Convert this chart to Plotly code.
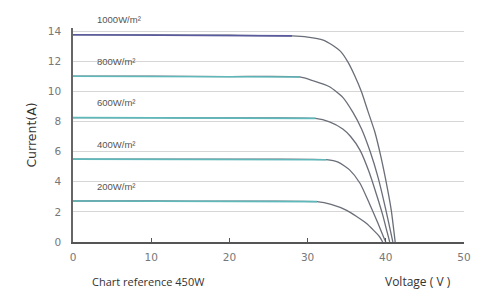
import plotly.graph_objects as go

# ---- data ----
v_1000 = [0, 10, 20, 28, 30, 32, 33.2, 34.3, 35.2, 36.0, 36.9, 37.7, 38.6, 39.4, 40.0, 40.7, 41.2]
i_1000 = [13.75, 13.74, 13.72, 13.68, 13.6, 13.4, 13.05, 12.6, 11.9, 11.06, 9.95, 8.7, 7.3, 5.6, 4.1, 2.1, 0]

v_800 = [0, 10, 20, 29, 30.7, 32.8, 34.5, 35.8, 36.9, 38.0, 39.0, 39.8, 40.4, 40.9]
i_800 = [11.0, 11.0, 10.98, 10.95, 10.7, 10.3, 9.6, 8.6, 7.5, 6.0, 4.3, 2.6, 1.2, 0]

v_600 = [0, 10, 20, 31, 32.8, 34.5, 35.5, 36.7, 37.9, 38.9, 39.6, 40.2, 40.5]
i_600 = [8.25, 8.25, 8.23, 8.2, 7.97, 7.5, 7.0, 6.1, 4.6, 3.0, 1.8, 0.6, 0]

v_400 = [0, 10, 20, 32.4, 33.9, 35.4, 36.7, 37.9, 39.0, 39.7, 40.0]
i_400 = [5.5, 5.5, 5.49, 5.46, 5.3, 4.77, 3.9, 2.56, 1.24, 0.35, 0]

v_200 = [0, 10, 20, 31.2, 33, 35, 37.5, 39.2, 39.6]
i_200 = [2.72, 2.72, 2.71, 2.68, 2.5, 2.1, 1.24, 0.35, 0]

labels = ["1000W/m²", "800W/m²", "600W/m²", "400W/m²", "200W/m²"]
flat_colors = ["#5a5a9e", "#5fb8ba", "#5fb8ba", "#5fb8ba", "#5fb8ba"]
flat_counts = [4, 4, 4, 4, 4]

x_ticks = [0, 10, 20, 30, 40, 50]
y_ticks = [0, 2, 4, 6, 8, 10, 12, 14]

curves = [(v_1000, i_1000), (v_800, i_800), (v_600, i_600), (v_400, i_400), (v_200, i_200)]

fig = go.Figure()
for (v, i), lab, fc, n in zip(curves, labels, flat_colors, flat_counts):
    fig.add_trace(go.Scatter(x=v, y=i, mode="lines", line=dict(color="#6a6e78", width=1.3, shape="spline", smoothing=0.6),
                             showlegend=False, hoverinfo="skip"))
    fig.add_trace(go.Scatter(x=v[:n], y=i[:n], mode="lines", line=dict(color=fc, width=1.6),
                             showlegend=False, hoverinfo="skip"))
    fig.add_annotation(x=2.8, y=i[0], yshift=15, text=lab, showarrow=False, xanchor="left", yanchor="middle",
                       font=dict(size=9.5, color="#555555", family="Liberation Sans, Arial"))

fig.add_annotation(xref="paper", yref="paper", x=0.043, y=0.0, text="Chart reference 450W", showarrow=False,
                   xanchor="left", yanchor="middle", yshift=-39,
                   font=dict(size=11, color="#333333", family="Open Sans, Arial"))
fig.add_annotation(xref="paper", yref="paper", x=0.793, y=0.0, text="Voltage ( V )", showarrow=False,
                   xanchor="left", yanchor="middle", yshift=-39,
                   font=dict(size=12, color="#333333", family="Open Sans, Arial"))

fig.update_xaxes(range=[0, 50], tickvals=x_ticks, showgrid=False, zeroline=False,
                 showline=True, linecolor="#555555", linewidth=2,
                 ticks="inside", ticklen=4, tickcolor="#555555", ticklabelstandoff=4,
                 tickfont=dict(size=10.5, color="#777777", family="DejaVu Sans"))
fig.update_yaxes(range=[0, 14.2], tickvals=y_ticks, showgrid=True, gridcolor="#d6d6d6", gridwidth=1,
                 zeroline=False, showline=True, linecolor="#666666", linewidth=1.5, ticks="",
                 ticklabelstandoff=8,
                 tickfont=dict(size=10.5, color="#777777", family="DejaVu Sans"),
                 title=dict(text="Current(A)", font=dict(size=12.5, color="#333333", family="DejaVu Sans"), standoff=8))

fig.update_layout(width=486, height=291, margin=dict(l=65, r=30, t=20, b=57),
                  plot_bgcolor="white", paper_bgcolor="white")

fig.write_html("out.html")
